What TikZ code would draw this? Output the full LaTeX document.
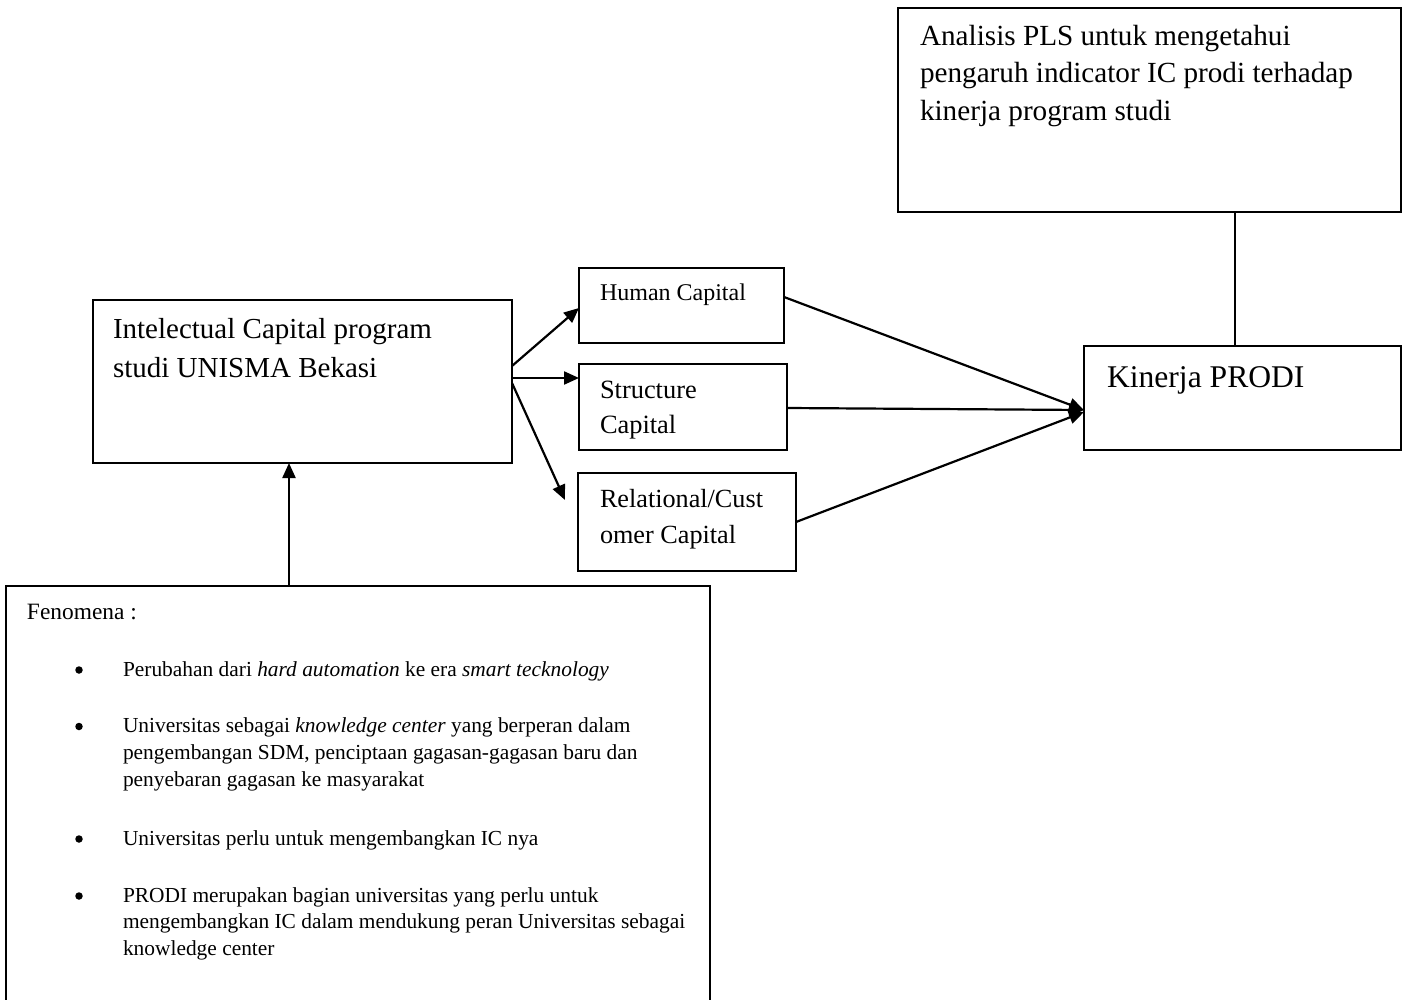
\documentclass[tikz,border=0pt]{standalone}
\usepackage{fontspec}
\setmainfont{Liberation Serif}
\usetikzlibrary{arrows.meta}
\newcommand{\myfs}[2]{\fontsize{#1}{#2}\selectfont}
\begin{document}
\begin{tikzpicture}[x=1pt,y=-1pt,
  box/.style={draw, line width=1.5pt, inner sep=0pt, outer sep=0pt},
  txt/.style={anchor=base west, inner sep=0pt, outer sep=0pt},
  dot/.style={circle, fill, inner sep=0pt, outer sep=0pt, minimum size=7.5pt},
  arr/.style={line width=2.2pt, -{Triangle[length=15pt,width=13pt]}},
  link/.style={line width=2pt}]
\useasboundingbox (0,0) rectangle (1405,1000);
% boxes
\node[box, minimum width=503pt, minimum height=204pt] (ana) at (1149.5,110) {};
\node[box, minimum width=317pt, minimum height=104pt] (kin) at (1242.5,398) {};
\node[box, minimum width=419pt, minimum height=163pt] (ic) at (302.5,381.5) {};
\node[box, minimum width=205pt, minimum height=75pt] (hum) at (681.5,305.5) {};
\node[box, minimum width=208pt, minimum height=86pt] (str) at (683,407) {};
\node[box, minimum width=218pt, minimum height=98pt] (rel) at (687,522) {};
\node[box, minimum width=704pt, minimum height=430pt] (fen) at (358,801) {};
% texts
\node[txt, font=\myfs{29.2}{35}] (ana1) at (920,46) {Analisis PLS untuk mengetahui};
\node[txt, font=\myfs{29.2}{35}] (ana2) at (920,83) {pengaruh indicator IC prodi terhadap};
\node[txt, font=\myfs{29.2}{35}] (ana3) at (920,121) {kinerja program studi};
\node[txt, font=\myfs{31.6}{38}] (kin1) at (1107,387) {Kinerja PRODI};
\node[txt, font=\myfs{29}{35}] (ic1) at (113,338) {Intelectual Capital program};
\node[txt, font=\myfs{29}{35}] (ic2) at (113,377) {studi UNISMA Bekasi};
\node[txt, font=\myfs{24}{29}] (hum1) at (600,301) {Human Capital};
\node[txt, font=\myfs{26.4}{32}] (str1) at (600,398) {Structure};
\node[txt, font=\myfs{26.4}{32}] (str2) at (600,433) {Capital};
\node[txt, font=\myfs{26.2}{32}] (rel1) at (600,507) {Relational/Cust};
\node[txt, font=\myfs{26.2}{32}] (rel2) at (600,543) {omer Capital};
\node[txt, font=\myfs{23.4}{28}] (fen0) at (27,619) {Fenomena :};
% bullets
\node[dot] (b1) at (79,670) {};
\node[dot] (b2) at (79,726.5) {};
\node[dot] (b3) at (79,839) {};
\node[dot] (b4) at (79,896) {};
\node[txt, font=\myfs{21.4}{26}] (l1) at (123,676) {Perubahan dari \textit{hard automation} ke era \textit{smart tecknology}};
\node[txt, font=\myfs{21.4}{26}] (l2a) at (123,732.5) {Universitas sebagai \textit{knowledge center} yang berperan dalam};
\node[txt, font=\myfs{21.4}{26}] (l2b) at (123,759.5) {pengembangan SDM, penciptaan gagasan-gagasan baru dan};
\node[txt, font=\myfs{21.4}{26}] (l2c) at (123,786.5) {penyebaran gagasan ke masyarakat};
\node[txt, font=\myfs{21.4}{26}] (l3) at (123,845) {Universitas perlu untuk mengembangkan IC nya};
\node[txt, font=\myfs{21.4}{26}] (l4a) at (123,902) {PRODI merupakan bagian universitas yang perlu untuk};
\node[txt, font=\myfs{21.4}{26}] (l4b) at (123,928.5) {mengembangkan IC dalam mendukung peran Universitas sebagai};
\node[txt, font=\myfs{21.4}{26}] (l4c) at (123,955) {knowledge center};
% connectors
\draw[arr] ([yshift=15.5pt]ic.east) -- ([yshift=-2.5pt]hum.west);
\draw[arr] ([yshift=3.5pt]ic.east) -- ([yshift=29pt]str.west);
\draw[arr] ([yshift=-1.5pt]ic.east) -- ([xshift=-13pt,yshift=22pt]rel.west);
\draw[arr] ([yshift=8.5pt]hum.east) -- ([yshift=-12pt]kin.west);
\draw[arr] ([yshift=-1pt]str.east) -- ([yshift=-12pt]kin.west);
\draw[arr] (rel.east) -- ([yshift=-14pt]kin.west);
\draw[arr] ([xshift=-69pt]fen.north) -- ([xshift=-13.5pt]ic.south);
\draw[link] ([xshift=85.5pt]ana.south) -- ([xshift=-7.5pt]kin.north);
\end{tikzpicture}
\end{document}
